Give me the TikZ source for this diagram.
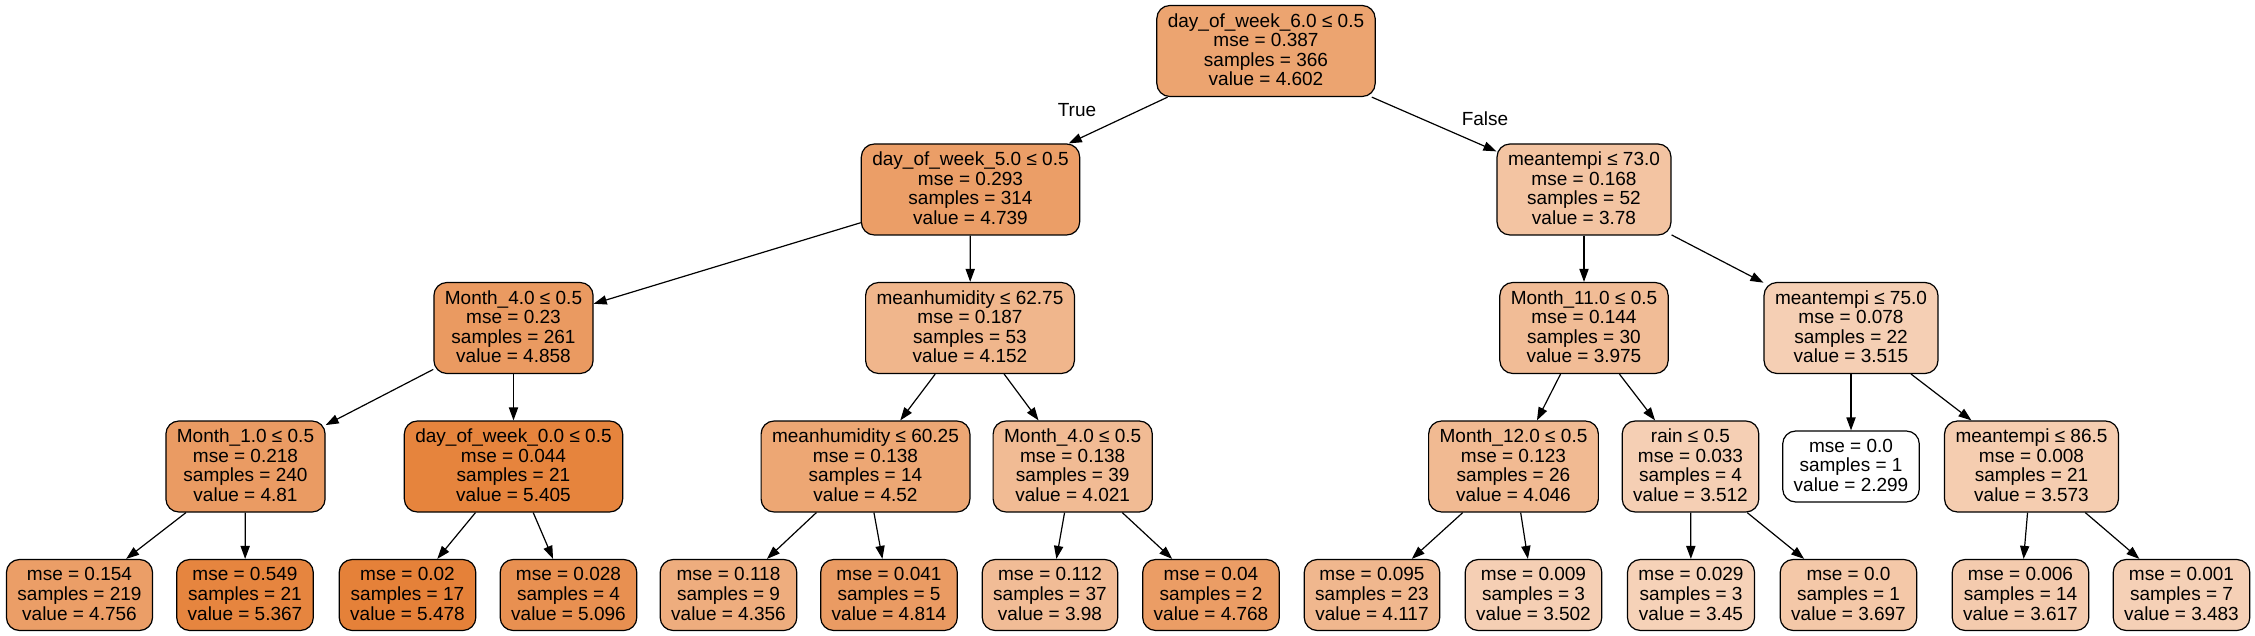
\documentclass[tikz,border=0pt]{standalone}
\usepackage{fontspec}
\setmainfont{Liberation Sans}
\usetikzlibrary{arrows.meta}
\definecolor{base}{RGB}{229,129,57}
\newcommand{\nodetext}[1]{{\baselineskip=9.75pt\begin{tabular}{@{}c@{}}\rule{0pt}{8.4pt}#1\end{tabular}}}
\tikzset{
  tn/.style={draw=black, line width=0.6pt, rounded corners=6.5pt,
    inner xsep=5.5pt, inner ysep=0pt, font=\fontsize{9.5pt}{9.75pt}\selectfont},
  four/.style={tn, minimum height=45.5pt},
  three/.style={tn, minimum height=35.5pt},
  edge/.style={line width=0.6pt, -{Triangle[length=6.5pt,width=4.6pt]}},
  lab/.style={font=\fontsize{9.5pt}{9.75pt}\selectfont, inner sep=0pt}
}
\begin{document}
\begin{tikzpicture}[x=0.5pt,y=-0.5pt]
\useasboundingbox (0,0) rectangle (2255,636);
% level 0
\node[four, fill=base!72!white] (root) at (1266,51) {\nodetext{day\_of\_week\_6.0 ≤ 0.5\\mse = 0.387\\samples = 366\\value = 4.602}};
% level 1
\node[four, fill=base!77!white] (n1) at (970.5,189.5) {\nodetext{day\_of\_week\_5.0 ≤ 0.5\\mse = 0.293\\samples = 314\\value = 4.739}};
\node[four, fill=base!47!white] (n2) at (1584,189.5) {\nodetext{meantempi ≤ 73.0\\mse = 0.168\\samples = 52\\value = 3.78}};
% level 2
\node[four, fill=base!80!white] (n3) at (513.5,328) {\nodetext{Month\_4.0 ≤ 0.5\\mse = 0.23\\samples = 261\\value = 4.858}};
\node[four, fill=base!58!white] (n4) at (970,328) {\nodetext{meanhumidity ≤ 62.75\\mse = 0.187\\samples = 53\\value = 4.152}};
\node[four, fill=base!53!white] (n5) at (1584,328) {\nodetext{Month\_11.0 ≤ 0.5\\mse = 0.144\\samples = 30\\value = 3.975}};
\node[four, fill=base!38!white] (n6) at (1851,328) {\nodetext{meantempi ≤ 75.0\\mse = 0.078\\samples = 22\\value = 3.515}};
% level 3
\node[four, fill=base!79!white] (n7) at (245.5,466.5) {\nodetext{Month\_1.0 ≤ 0.5\\mse = 0.218\\samples = 240\\value = 4.81}};
\node[four, fill=base!98!white] (n8) at (513.5,466.5) {\nodetext{day\_of\_week\_0.0 ≤ 0.5\\mse = 0.044\\samples = 21\\value = 5.405}};
\node[four, fill=base!70!white] (n9) at (865.5,466.5) {\nodetext{meanhumidity ≤ 60.25\\mse = 0.138\\samples = 14\\value = 4.52}};
\node[four, fill=base!54!white] (n10) at (1072.7,466.5) {\nodetext{Month\_4.0 ≤ 0.5\\mse = 0.138\\samples = 39\\value = 4.021}};
\node[four, fill=base!55!white] (n11) at (1513.5,466.5) {\nodetext{Month\_12.0 ≤ 0.5\\mse = 0.123\\samples = 26\\value = 4.046}};
\node[four, fill=base!38!white] (n12) at (1690.5,466.5) {\nodetext{rain ≤ 0.5\\mse = 0.033\\samples = 4\\value = 3.512}};
\node[three, fill=white] (n13) at (1851,466.5) {\nodetext{mse = 0.0\\samples = 1\\value = 2.299}};
\node[four, fill=base!40!white] (n14) at (2031.5,466.5) {\nodetext{meantempi ≤ 86.5\\mse = 0.008\\samples = 21\\value = 3.573}};
% leaves
\node[three, fill=base!77!white] (l1) at (79.5,595) {\nodetext{mse = 0.154\\samples = 219\\value = 4.756}};
\node[three, fill=base!97!white] (l2) at (245,595) {\nodetext{mse = 0.549\\samples = 21\\value = 5.367}};
\node[three, fill=base!100!white] (l3) at (407.5,595) {\nodetext{mse = 0.02\\samples = 17\\value = 5.478}};
\node[three, fill=base!88!white] (l4) at (568.5,595) {\nodetext{mse = 0.028\\samples = 4\\value = 5.096}};
\node[three, fill=base!65!white] (l5) at (728.5,595) {\nodetext{mse = 0.118\\samples = 9\\value = 4.356}};
\node[three, fill=base!79!white] (l6) at (889,595) {\nodetext{mse = 0.041\\samples = 5\\value = 4.814}};
\node[three, fill=base!53!white] (l7) at (1050,595) {\nodetext{mse = 0.112\\samples = 37\\value = 3.98}};
\node[three, fill=base!78!white] (l8) at (1211,595) {\nodetext{mse = 0.04\\samples = 2\\value = 4.768}};
\node[three, fill=base!57!white] (l9) at (1372,595) {\nodetext{mse = 0.095\\samples = 23\\value = 4.117}};
\node[three, fill=base!38!white] (l10) at (1533.5,595) {\nodetext{mse = 0.009\\samples = 3\\value = 3.502}};
\node[three, fill=base!36!white] (l11) at (1691,595) {\nodetext{mse = 0.029\\samples = 3\\value = 3.45}};
\node[three, fill=base!44!white] (l12) at (1848.5,595) {\nodetext{mse = 0.0\\samples = 1\\value = 3.697}};
\node[three, fill=base!41!white] (l13) at (2020.5,595) {\nodetext{mse = 0.006\\samples = 14\\value = 3.617}};
\node[three, fill=base!37!white] (l14) at (2181.5,595) {\nodetext{mse = 0.001\\samples = 7\\value = 3.483}};
% edge labels
\node[lab] (tl) at (1077,110.5) {True};
\node[lab] (fl) at (1485,118.5) {False};
% edges
\draw[edge] (root) -- (n1);
\draw[edge] (root) -- (n2);
\draw[edge] (n1) -- (n3);
\draw[edge] (n1) -- (n4);
\draw[edge] (n2) -- (n5);
\draw[edge] (n2) -- (n6);
\draw[edge] (n3) -- (n7);
\draw[edge] (n3) -- (n8);
\draw[edge] (n4) -- (n9);
\draw[edge] (n4) -- (n10);
\draw[edge] (n5) -- (n11);
\draw[edge] (n5) -- (n12);
\draw[edge] (n6) -- (n13);
\draw[edge] (n6) -- (n14);
\draw[edge] (n7) -- (l1);
\draw[edge] (n7) -- (l2);
\draw[edge] (n8) -- (l3);
\draw[edge] (n8) -- (l4);
\draw[edge] (n9) -- (l5);
\draw[edge] (n9) -- (l6);
\draw[edge] (n10) -- (l7);
\draw[edge] (n10) -- (l8);
\draw[edge] (n11) -- (l9);
\draw[edge] (n11) -- (l10);
\draw[edge] (n12) -- (l11);
\draw[edge] (n12) -- (l12);
\draw[edge] (n14) -- (l13);
\draw[edge] (n14) -- (l14);
\end{tikzpicture}
\end{document}
